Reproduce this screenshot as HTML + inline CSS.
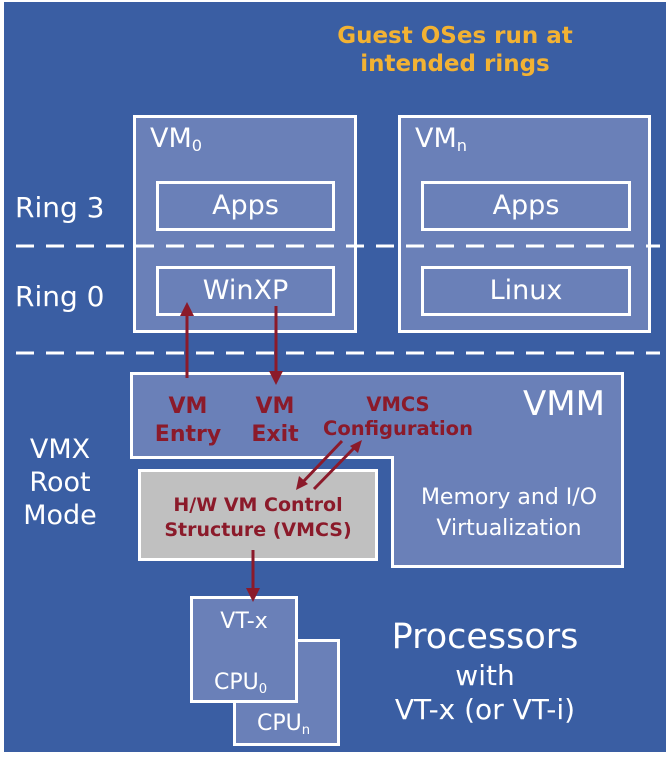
<!DOCTYPE html>
<html><head><style>
*{margin:0;padding:0}
body{width:672px;height:757px;background:#fff;position:relative;overflow:hidden;font-family:"DejaVu Sans","Liberation Sans",sans-serif}
.bg{position:absolute;left:4px;top:2px;width:662px;height:750px;background:#3a5ea3}
.b{position:absolute;box-sizing:border-box;border:3px solid #fff;background:#6a80b8}
.t{position:absolute;color:#fff;white-space:nowrap}
.r{position:absolute;color:#8b1a2a;font-weight:bold;white-space:nowrap;text-align:center}
sub{font-size:60%;vertical-align:-4px}
</style></head><body>
<div class="bg"></div>
<div class="t" style="left:305px;top:22px;width:300px;text-align:center;color:#f2b233;font-weight:bold;font-size:23px;line-height:28px">Guest OSes run at<br>intended rings</div>

<div class="b" style="left:133px;top:115px;width:224px;height:218px"></div>
<div class="b" style="left:398px;top:115px;width:253px;height:218px"></div>
<div class="t" style="left:150px;top:123px;font-size:27px">VM<sub>0</sub></div>
<div class="t" style="left:415px;top:123px;font-size:27px">VM<sub>n</sub></div>
<div class="b" style="left:156px;top:181px;width:179px;height:50px"></div>
<div class="b" style="left:421px;top:181px;width:210px;height:50px"></div>
<div class="b" style="left:156px;top:266px;width:179px;height:50px"></div>
<div class="b" style="left:421px;top:266px;width:210px;height:50px"></div>
<div class="t" style="left:156px;top:190px;width:179px;text-align:center;font-size:27px">Apps</div>
<div class="t" style="left:421px;top:190px;width:210px;text-align:center;font-size:27px">Apps</div>
<div class="t" style="left:156px;top:275px;width:179px;text-align:center;font-size:27px">WinXP</div>
<div class="t" style="left:421px;top:275px;width:210px;text-align:center;font-size:27px">Linux</div>
<div class="t" style="left:15px;top:191px;font-size:28px">Ring 3</div>
<div class="t" style="left:15px;top:280px;font-size:28px">Ring 0</div>

<svg style="position:absolute;left:0;top:0" width="672" height="757">
<line x1="16" y1="246" x2="660" y2="246" stroke="#fff" stroke-width="3" stroke-dasharray="18,12"/>
<line x1="16" y1="353" x2="660" y2="353" stroke="#fff" stroke-width="3" stroke-dasharray="18,12"/>
<path d="M131.5,373.5 H622.5 V566.5 H392.5 V457.5 H131.5 Z" fill="#6a80b8" stroke="#fff" stroke-width="3"/>
<rect x="139.5" y="470.5" width="237" height="89" fill="#c0c0c0" stroke="#fff" stroke-width="3"/>
<rect x="234.5" y="640.5" width="104" height="104" fill="#6a80b8" stroke="#fff" stroke-width="3"/>
<rect x="191.5" y="597.5" width="105" height="104" fill="#6a80b8" stroke="#fff" stroke-width="3"/>
<g stroke="#8b1a2a" stroke-width="3" fill="#8b1a2a">
<line x1="187" y1="378" x2="187" y2="310"/><path d="M180,316 L187,302 L194,316 Z" stroke="none"/>
<line x1="276" y1="306" x2="276" y2="378"/><path d="M269,371 L276,385 L283,371 Z" stroke="none"/>
<line x1="342" y1="441" x2="301" y2="484"/><path d="M296,490 L299,476 L308,484 Z" stroke="none"/>
<line x1="314" y1="489" x2="356" y2="446"/><path d="M362,440 L350,446 L358,453 Z" stroke="none"/>
<line x1="253" y1="550" x2="253" y2="594"/><path d="M246,588 L253,602 L260,588 Z" stroke="none"/>
</g>
</svg>

<div class="r" style="left:138px;top:393px;width:100px;font-size:22px;line-height:28px">VM<br>Entry</div>
<div class="r" style="left:230px;top:393px;width:90px;font-size:22px;line-height:28px">VM<br>Exit</div>
<div class="r" style="left:298px;top:393px;width:200px;font-size:19.5px;line-height:24px">VMCS<br>Configuration</div>
<div class="t" style="left:523px;top:384px;font-size:34px">VMM</div>
<div class="t" style="left:395px;top:482px;width:228px;text-align:center;font-size:22px;line-height:31px">Memory and I/O<br>Virtualization</div>
<div class="r" style="left:139px;top:493px;width:238px;font-size:19px;line-height:25px">H/W VM Control<br>Structure (VMCS)</div>
<div class="t" style="left:10px;top:433px;width:100px;text-align:center;font-size:27px;line-height:33px">VMX<br>Root<br>Mode</div>

<div class="t" style="left:191px;top:609px;width:106px;text-align:center;font-size:22px">VT-x</div>
<div class="t" style="left:214px;top:670px;font-size:22px">CPU<sub>0</sub></div>
<div class="t" style="left:257px;top:711px;font-size:22px">CPU<sub>n</sub></div>
<div class="t" style="left:360px;top:617px;width:250px;text-align:center;font-size:35px">Processors</div>
<div class="t" style="left:360px;top:659px;width:250px;text-align:center;font-size:28px">with</div>
<div class="t" style="left:350px;top:693px;width:270px;text-align:center;font-size:28px">VT-x (or VT-i)</div>
</body></html>
